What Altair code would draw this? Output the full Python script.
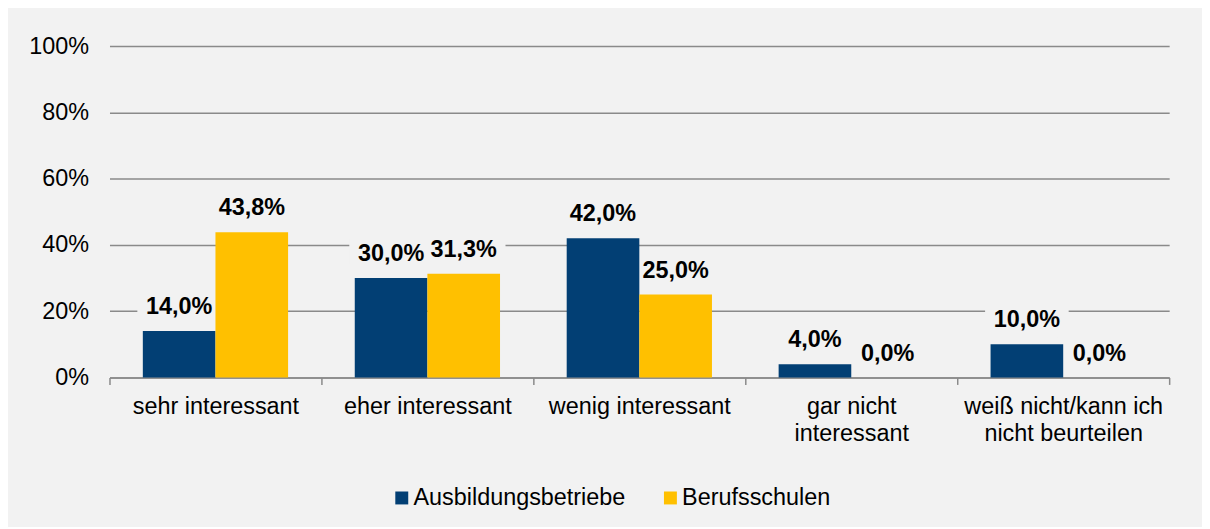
import altair as alt
import pandas as pd

categories = ["sehr interessant", "eher interessant", "wenig interessant",
              "gar nicht interessant", "weiß nicht/kann ich nicht beurteilen"]
wrapped = {
    "gar nicht interessant": ["gar nicht", "interessant"],
    "weiß nicht/kann ich nicht beurteilen": ["weiß nicht/kann ich", "nicht beurteilen"],
}
series = ["Ausbildungsbetriebe", "Berufsschulen"]
ausbildungsbetriebe = [14.0, 30.0, 42.0, 4.0, 10.0]
berufsschulen = [43.8, 31.3, 25.0, 0.0, 0.0]
colors = ["#023f74", "#ffc000"]

BG = "#f2f2f2"
GRID = "#8a8a8a"
FONT = "Liberation Sans"
FS = 23.5

rows = []
for s, vals in zip(series, [ausbildungsbetriebe, berufsschulen]):
    for c, v in zip(categories, vals):
        rows.append({"cat": c, "series": s, "value": v / 100.0,
                     "label": f"{v:.1f}".replace(".", ",") + "%"})
df = pd.DataFrame(rows)

label_expr = ""
for k, lines in wrapped.items():
    arr = "[" + ", ".join(f"'{l}'" for l in lines) + "]"
    label_expr += f"datum.value == '{k}' ? {arr} : "
label_expr += "datum.value"

x = alt.X("cat:N", sort=categories, title=None,
          scale=alt.Scale(paddingInner=0, paddingOuter=0),
          axis=alt.Axis(labelAngle=0, labelExpr=label_expr, labelFont=FONT,
                        labelFontSize=FS, labelColor="#000000", labelLineHeight=27,
                        labelPadding=10, labelLimit=0, domain=True, domainColor=GRID,
                        domainWidth=1.5, ticks=True, tickBand="extent", tickSize=7,
                        tickColor=GRID, tickWidth=1.5, grid=False, labelBaseline="top"))
xo = alt.XOffset("series:N", sort=series,
                 scale=alt.Scale(paddingInner=0, paddingOuter=0.459))
y = alt.Y("value:Q", title=None, scale=alt.Scale(domain=[0, 1]),
          axis=alt.Axis(values=[0, 0.2, 0.4, 0.6, 0.8, 1.0], format=".0%",
                        grid=True, gridColor=GRID, gridWidth=1.5, domain=False,
                        ticks=False, labelPadding=21, labelFont=FONT, labelFontSize=FS,
                        labelColor="#000000"))

base = alt.Chart(df)

boxes = base.mark_point(
    shape="M-1,-0.31L1,-0.31L1,0.31L-1,0.31Z", filled=True, color=BG, opacity=1,
    size=84 * 84, yOffset=-27, strokeWidth=0
).encode(x=x, xOffset=xo, y=y)

bars = base.mark_bar().encode(
    x=x, xOffset=xo, y=y,
    color=alt.Color("series:N", sort=series,
                    scale=alt.Scale(domain=series, range=colors),
                    legend=alt.Legend(title=None, orient="none", legendX=282, legendY=442,
                                      direction="horizontal", symbolType="square",
                                      symbolSize=169, symbolStrokeWidth=0,
                                      labelFont=FONT, labelFontSize=FS, labelLimit=0,
                                      labelColor="#000000", labelOffset=0,
                                      columnPadding=33)),
)

labels = base.mark_text(
    font=FONT, fontSize=FS, fontWeight="bold", color="#000000",
    baseline="alphabetic", align="center", dy=-17
).encode(x=x, xOffset=xo, y=y, text="label:N")

chart = alt.layer(boxes, bars, labels).properties(
    width=1065, height=333,
    padding={"left": 102, "top": 37, "right": 33, "bottom": 149},
    autosize=alt.AutoSizeParams(type="none"),
    background=BG,
).configure_view(stroke=None)

chart.save("out.html", embed_options={"renderer": "svg", "actions": False})
